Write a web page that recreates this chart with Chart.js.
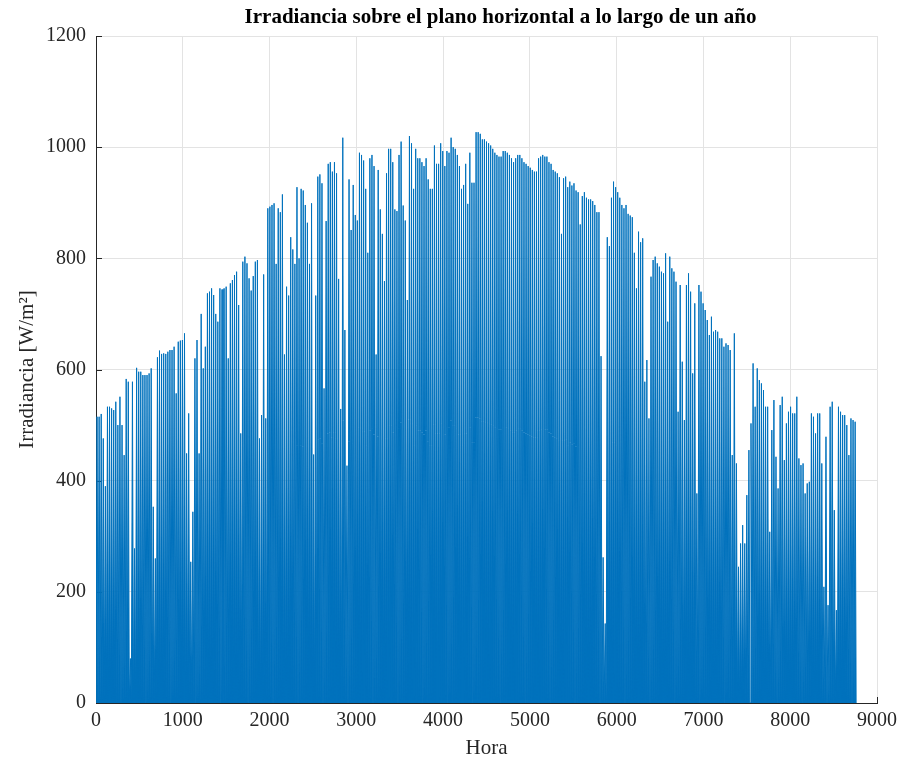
<!DOCTYPE html>
<html>
<head>
<meta charset="utf-8">
<script src="https://cdn.jsdelivr.net/npm/chart.js@4.4.1/dist/chart.umd.min.js"></script>
<style>
  body { margin: 0; background: #fff; }
  canvas { display: block; }
</style>
</head>
<body>
<canvas id="irrChart" width="900" height="763"></canvas>
<script>
// Daily peak irradiance (W/m2), one value per day
const peaksJan = [515,515,520,476,390,533,533,530,527,542,500,551,500,446,583,578,80,578,278,603,596,596,590,590,590,593,602,353,260,622,634];
const peaksFeb = [628,629,628,632,635,635,641,557,650,652,653,665,449,521,254,344,620,653,449,700,602,641,737,740,746,734,700,686];
const peaksMar = [746,744,746,749,620,755,761,770,776,716,485,794,803,791,764,742,768,794,797,476,518,771,512,890,893,896,899,790,890,883,915];
const peaksApr = [627,749,733,838,816,790,928,800,925,922,896,864,790,899,447,733,947,951,935,566,867,970,973,956,973,953,763,529,1017,671];
const peaksMay = [427,942,851,932,878,868,990,986,976,925,810,980,986,966,627,959,888,844,759,953,997,997,973,888,885,986,1010,895,868,725,1020];
const peaksJun = [1007,925,997,980,980,973,966,980,942,925,925,1003,970,970,1007,993,966,993,990,1017,1000,997,986,966,925,932,970,898,990,936];
const peaksJul = [936,1027,1027,1024,1014,1014,1010,1007,1003,997,990,986,983,983,993,993,990,986,980,973,980,986,986,980,973,970,966,963,959,956,956];
const peaksAug = [980,983,986,983,983,973,970,959,956,953,946,844,944,947,928,938,931,935,922,919,861,912,919,909,906,906,903,896,883,883,624];
const peaksSep = [262,143,838,822,909,938,928,919,909,896,890,896,880,877,874,810,746,848,829,836,578,617,512,767,797,803,791,785,776,773];
const peaksOct = [809,686,803,782,776,758,524,752,614,509,752,773,740,593,719,377,752,740,719,707,689,662,695,668,671,668,656,656,641,647,644];
const peaksNov = [635,446,665,431,245,287,320,287,374,455,503,611,533,602,581,575,563,533,533,308,491,545,443,386,536,551,437,503,524,533];
const peaksDec = [521,521,551,440,428,431,377,395,398,521,515,485,521,521,431,209,479,176,533,542,347,167,533,524,518,518,500,446,512,509,506];

// hours of the day used for each daily curve
const sunriseHour = 0.5;
const noonHour = 12;
const sunsetHour = 23.5;

const xTicks = [0,1000,2000,3000,4000,5000,6000,7000,8000,9000];
const yTicks = [0,200,400,600,800,1000,1200];

const titleText = 'Irradiancia sobre el plano horizontal a lo largo de un año';

const dailyPeaks = [].concat(peaksJan, peaksFeb, peaksMar, peaksApr, peaksMay, peaksJun,
                             peaksJul, peaksAug, peaksSep, peaksOct, peaksNov, peaksDec);

// hourly series: zero at night, peak at noon
const points = [];
dailyPeaks.forEach((peak, day) => {
    points.push({ x: day * 24 + sunriseHour, y: 0 });
    points.push({ x: day * 24 + noonHour, y: peak });
    points.push({ x: day * 24 + sunsetHour, y: 0 });
});

const serif = 'Liberation Serif, Times New Roman, serif';
const axisColor = '#262626';
const gridColor = '#e3e3e3';

// small inward ticks, like the original plot
const innerTicks = {
    id: 'innerTicks',
    beforeDatasetsDraw(chart) {
        const ctx = chart.ctx;
        const area = chart.chartArea;
        const xs = chart.scales.x, ys = chart.scales.y;
        ctx.save();
        ctx.strokeStyle = axisColor;
        ctx.lineWidth = 1;
        ctx.beginPath();
        xTicks.forEach(v => {
            const px = Math.round(xs.getPixelForValue(v)) + 0.5;
            ctx.moveTo(px, area.bottom);
            ctx.lineTo(px, area.bottom - 6);
        });
        yTicks.forEach(v => {
            const py = Math.round(ys.getPixelForValue(v)) + 0.5;
            ctx.moveTo(area.left, py);
            ctx.lineTo(area.left + 6, py);
        });
        ctx.stroke();
        ctx.restore();
    }
};

// title centred a little right of the plot, as MATLAB placed it
const plotTitle = {
    id: 'plotTitle',
    afterDraw(chart) {
        const ctx = chart.ctx;
        const area = chart.chartArea;
        ctx.save();
        ctx.fillStyle = '#000';
        ctx.font = 'bold 21px ' + serif;
        ctx.textAlign = 'center';
        ctx.textBaseline = 'middle';
        ctx.fillText(titleText, (area.left + area.right) / 2 + 14, 18);
        ctx.restore();
    }
};

const ctx = document.getElementById('irrChart').getContext('2d');
const irrChart = new Chart(ctx, {
    type: 'line',
    data: {
        datasets: [{
            data: points,
            borderColor: '#0072BD',
            backgroundColor: '#0072BD',
            borderWidth: 1,
            pointRadius: 0,
            tension: 0,
            fill: 'origin'
        }]
    },
    options: {
        responsive: false,
        animation: false,
        parsing: false,
        normalized: true,
        layout: { padding: { top: 36, right: 23 } },
        plugins: {
            legend: { display: false },
            tooltip: { enabled: false },
            title: { display: false }
        },
        scales: {
            x: {
                type: 'linear',
                min: 0,
                max: 9000,
                afterBuildTicks: s => { s.ticks = xTicks.map(v => ({ value: v })); },
                afterFit: s => { s.height = 60; s.paddingLeft = 0; s.paddingRight = 0; },
                ticks: { color: axisColor, font: { family: serif, size: 20 }, padding: 6, maxRotation: 0, callback: v => String(v) },
                grid: { color: gridColor, drawTicks: false },
                border: { color: axisColor },
                title: {
                    display: true, text: 'Hora', color: axisColor,
                    font: { family: serif, size: 21 }, padding: { top: 0, bottom: 2 }
                }
            },
            y: {
                min: 0,
                max: 1200,
                afterBuildTicks: s => { s.ticks = yTicks.map(v => ({ value: v })); },
                afterFit: s => { s.width = 96; },
                ticks: { color: axisColor, font: { family: serif, size: 20 }, padding: 10, callback: v => String(v) },
                grid: { color: gridColor, drawTicks: false },
                border: { color: axisColor },
                title: {
                    display: true, text: 'Irradiancia [W/m²]', color: axisColor,
                    font: { family: serif, size: 21 }, padding: { top: 15, bottom: 0 }
                }
            }
        }
    },
    plugins: [innerTicks, plotTitle]
});
</script>
</body>
</html>
